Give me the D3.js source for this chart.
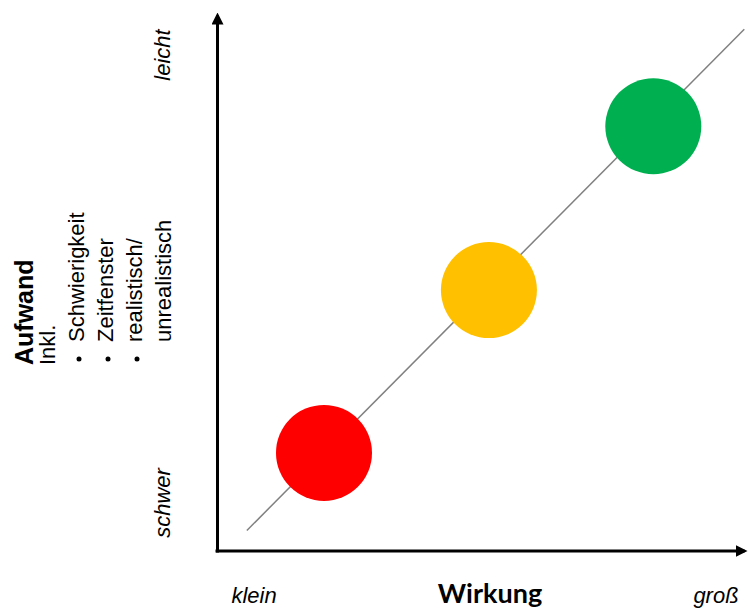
<!DOCTYPE html>
<html>
<head>
<meta charset="utf-8">
<script src="https://cdn.jsdelivr.net/npm/d3@7"></script>
<style>
    body { margin: 0; background: #fff; }
    text { font-family: "Liberation Sans", Arial, sans-serif; }
</style>
</head>
<body>
<svg id="chart" width="748" height="609"></svg>
<script>
// Aufwand / Wirkung matrix
const levels = ["schwer", "mittel", "leicht"];
const wirkung = [20.3, 51.3, 82.2];
const aufwand = [18.2, 48.4, 78.8];
const colors = ["#ff0000", "#ffc000", "#00b050"];

const trendX = [5.8, 99.3];
const trendY = [3.8, 96.8];

const yEnds = ["schwer", "leicht"];
const xEnds = ["klein", "groß"];
const aufwandNotes = ["Schwierigkeit", "Zeitfenster", "realistisch/", "unrealistisch"];

const svg = d3.select("#chart");

let x = d3.scaleLinear().domain([0, 100]).range([216, 748]);
let y = d3.scaleLinear().domain([0, 100]).range([551, 12]);

svg.append("defs").append("marker")
    .attr("id", "arrow")
    .attr("viewBox", "0 -6 12 12")
    .attr("refX", 9)
    .attr("refY", 0)
    .attr("markerUnits", "userSpaceOnUse")
    .attr("markerWidth", 12)
    .attr("markerHeight", 12)
    .attr("orient", "auto")
    .append("path")
    .attr("d", "M0,-6L12,0L0,6Z")
    .attr("fill", "#000");

// trend line
svg.append("line")
    .attr("x1", x(trendX[0])).attr("y1", y(trendY[0]))
    .attr("x2", x(trendX[1])).attr("y2", y(trendY[1]))
    .attr("stroke", "#808080")
    .attr("stroke-width", 1.5);

// circles
svg.selectAll("circle.level")
    .data(levels)
    .enter().append("circle")
    .attr("class", "level")
    .attr("cx", (d, i) => x(wirkung[i]))
    .attr("cy", (d, i) => y(aufwand[i]))
    .attr("r", 48)
    .attr("fill", (d, i) => colors[i]);

// axes, no ticks, only domain line with arrow
let yAxis = svg.append("g")
    .attr("transform", "translate(" + (x(0) + 1) + ",0)")
    .call(d3.axisLeft(y.copy().range([552, 15])).tickValues([]).tickSizeOuter(0));
let xAxis = svg.append("g")
    .attr("transform", "translate(0," + (y(0) - 0.5) + ")")
    .call(d3.axisBottom(x.copy().range([215, 744])).tickValues([]).tickSizeOuter(0));

[yAxis, xAxis].forEach(a => {
    a.select(".domain")
        .attr("stroke", "#000")
        .attr("stroke-width", 3)
        .attr("marker-end", "url(#arrow)");
});

// end labels
svg.selectAll("text.yend")
    .data(yEnds)
    .enter().append("text")
    .attr("class", "yend")
    .attr("transform", (d, i) => "translate(170," + (i === 0 ? 503 : 55) + ") rotate(-90)")
    .attr("text-anchor", "middle")
    .attr("font-style", "italic")
    .attr("font-size", 22)
    .text(d => d);

svg.selectAll("text.xend")
    .data(xEnds)
    .enter().append("text")
    .attr("class", "xend")
    .attr("x", (d, i) => i === 0 ? 254 : 716)
    .attr("y", 603)
    .attr("text-anchor", "middle")
    .attr("font-style", "italic")
    .attr("font-size", 22)
    .text(d => d);

svg.append("text")
    .attr("x", 490)
    .attr("y", 603)
    .attr("text-anchor", "middle")
    .attr("font-weight", "bold")
    .attr("font-size", 27)
    .style("font-family", "Lato, 'Open Sans', sans-serif")
    .text("Wirkung");

// y axis title block
svg.append("text")
    .attr("transform", "translate(33,365) rotate(-90)")
    .attr("font-weight", "bold")
    .attr("font-size", 25)
    .text("Aufwand");

svg.append("text")
    .attr("transform", "translate(55,365) rotate(-90)")
    .attr("font-size", 22)
    .text("Inkl.");

let noteX = [84, 113, 142, 171];

svg.selectAll("text.note")
    .data(aufwandNotes)
    .enter().append("text")
    .attr("class", "note")
    .attr("transform", (d, i) => "translate(" + noteX[i] + ",342) rotate(-90)")
    .attr("font-size", 22)
    .text(d => d);

svg.selectAll("circle.bullet")
    .data(aufwandNotes.slice(0, 3))
    .enter().append("circle")
    .attr("class", "bullet")
    .attr("cx", (d, i) => noteX[i] - 5)
    .attr("cy", 359)
    .attr("r", 2.5)
    .attr("fill", "#000");
</script>
</body>
</html>
